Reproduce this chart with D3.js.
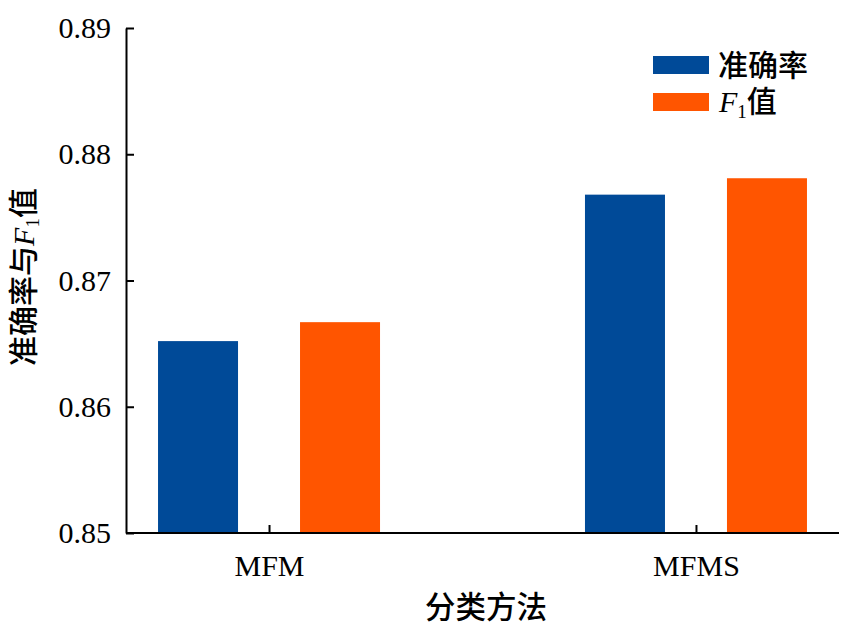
<!DOCTYPE html>
<html>
<head>
<meta charset="utf-8">
<script src="https://cdn.jsdelivr.net/npm/d3@7"></script>
<style>
  html, body { margin: 0; padding: 0; background: #fff; }
  svg { display: block; }
</style>
</head>
<body>
<svg id="chart" width="845" height="633"></svg>
<script>
const categories = ["MFM", "MFMS"];
const seriesNames = ["准确率", "F1值"];
const accuracy = [0.8652, 0.8768];
const f1Values = [0.8667, 0.8781];
const yTicks = [0.85, 0.86, 0.87, 0.88, 0.89];
const colors = ["#004a98", "#ff5500"];

(function () {
const seriesValues = [accuracy, f1Values];
const serif = "'Liberation Serif','Times New Roman',serif";
const cjk = "'Noto Sans CJK SC','Noto Sans',sans-serif";

const svg = d3.select("#chart");
const mLeft = 126, mRight = 839, mTop = 28, mBottom = 533;

const x = d3.scalePoint().domain(categories).range([mLeft, mRight]).padding(0.335);
const xs = d3.scaleBand().domain(d3.range(seriesNames.length)).range([-111, 111]).paddingInner(0.4366);
const y = d3.scaleLinear().domain([0.85, 0.89]).range([mBottom, mTop]);

// bars
categories.forEach((c, ci) => {
  const g = svg.append("g").attr("transform", `translate(${x(c)},0)`);
  g.selectAll("rect").data(seriesValues.map((s, si) => ({ si, v: s[ci] })))
    .join("rect")
    .attr("x", d => xs(d.si))
    .attr("width", xs.bandwidth())
    .attr("y", d => y(d.v))
    .attr("height", d => y(0.85) - y(d.v))
    .attr("fill", d => colors[d.si]);
});

// y axis
const yAxis = svg.append("g").attr("transform", `translate(${mLeft},0)`)
  .call(d3.axisLeft(y).tickValues(yTicks).tickFormat(d3.format(".2f")).tickSizeInner(-8).tickSizeOuter(0).tickPadding(15));
yAxis.select(".domain").attr("stroke", "#000").attr("stroke-width", 2);
yAxis.selectAll(".tick line").attr("stroke", "#000").attr("stroke-width", 2);
yAxis.selectAll(".tick text").attr("font-family", serif).attr("font-size", 30).attr("fill", "#000");

// x axis
const xAxis = svg.append("g").attr("transform", `translate(0,${mBottom})`)
  .call(d3.axisBottom(x).tickSizeInner(-8).tickSizeOuter(0));
xAxis.select(".domain").attr("stroke", "#000").attr("stroke-width", 2)
  .attr("d", `M${mLeft},0H${mRight}`);
xAxis.selectAll(".tick line").attr("stroke", "#000").attr("stroke-width", 2);
xAxis.selectAll(".tick text").attr("font-family", serif).attr("font-size", 30).attr("fill", "#000")
  .attr("y", 43).attr("dy", 0);

// x title
svg.append("text").attr("x", 486).attr("y", 618).attr("text-anchor", "middle")
  .attr("font-family", cjk).attr("font-size", 30.5).attr("font-weight", 500).attr("fill", "#000").text("分类方法");

// y title
const yt = svg.append("text").attr("transform", "translate(34,277) rotate(-90)")
  .attr("text-anchor", "middle").attr("font-family", cjk).attr("font-size", 30).attr("font-weight", 500).attr("fill", "#000");
yt.append("tspan").text("准确率与");
yt.append("tspan").attr("font-family", serif).attr("font-style", "italic").attr("font-weight", 400).text("F");
yt.append("tspan").attr("font-family", serif).attr("font-weight", 400).attr("font-size", 19).attr("dy", 5).text("1");
yt.append("tspan").attr("dy", -5).text("值");

// legend
const legendY = [56, 93];
seriesNames.forEach((n, i) => {
  svg.append("rect").attr("x", 653).attr("y", legendY[i]).attr("width", 56).attr("height", 18).attr("fill", colors[i]);
});
svg.append("text").attr("x", 718).attr("y", 76).attr("font-family", cjk).attr("font-size", 30)
  .attr("font-weight", 500).attr("fill", "#000").text(seriesNames[0]);
const l2 = svg.append("text").attr("x", 719).attr("y", 112).attr("font-size", 30).attr("fill", "#000");
l2.append("tspan").attr("font-family", serif).attr("font-style", "italic").text("F");
l2.append("tspan").attr("font-family", serif).attr("font-size", 19).attr("dy", 6).text("1");
l2.append("tspan").attr("font-family", cjk).attr("font-weight", 500).attr("dy", -6).text("值");
})();
</script>
</body>
</html>
